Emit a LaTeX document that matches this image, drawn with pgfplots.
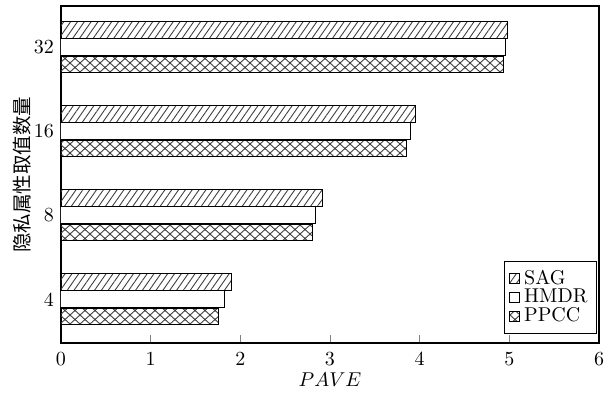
\documentclass[border=0pt]{standalone}
\usepackage{fontspec}
\usepackage{pgfplots}
\pgfplotsset{compat=1.18}
\usetikzlibrary{patterns.meta}
\newfontfamily\cjk{Noto Sans CJK SC}
\tikzdeclarepattern{
  name=xhatch,
  type=uncolored,
  bounding box={(-0.2pt,-0.2pt) and (5.2pt,4.7pt)},
  tile size={(5pt,4.5pt)},
  code={\draw[line width=0.45pt] (0pt,0pt)--(5pt,4.5pt) (0pt,4.5pt)--(5pt,0pt);}
}
\pgfplotstableread{
y SAG HMDR PPCC
0 1.90 1.82 1.76
1 2.92 2.84 2.80
2 3.955 3.90 3.855
3 4.98 4.96 4.93
}\datatable
\begin{document}
\begin{tikzpicture}
\begin{axis}[
  scale only axis,
  width=269pt, height=168.5pt,
  xmin=0, xmax=6, ymin=-0.52, ymax=3.49,
  xtick={0,1,2,3,4,5,6},
  xtick pos=bottom,
  ytick={0,1,2,3},
  yticklabels={4,8,16,32},
  ytick pos=left,
  major y tick style={draw=none},
  extra y ticks={0.5,1.5,2.5},
  extra y tick labels={},
  extra y tick style={major tick length=3.5pt, tick style={draw=black}},
  tick align=inside,
  major tick length=4pt,
  axis line style={line width=0.9pt},
  xticklabel style={yshift=-1.5pt},
  yticklabel style={xshift=4pt},
  xbar, bar width=0.2,
  xlabel={$PAVE$},
  xlabel style={font=\fontsize{10}{12}\selectfont, at={(rel axis cs:0.5,0)}, anchor=center, yshift=-18.5pt},
  ylabel={\cjk 隐私属性取值数量},
  ylabel style={font=\fontsize{9.75}{11}\selectfont, at={(rel axis cs:0,0.5)}, anchor=center, yshift=19.5pt},
  legend style={at={(rel axis cs:0.996,0.026)}, anchor=south east, draw=black, line width=0.5pt,
    font=\fontsize{10}{11}\selectfont, row sep=-3pt, inner sep=2.4pt, cells={anchor=west}},
  legend image code/.code={\draw[#1,line width=0.5pt] (0pt,-2.5pt) rectangle (5pt,2.5pt);},
]
\addplot[draw=black, line width=0.5pt, pattern={Lines[angle=55,distance=2.8pt,line width=0.45pt]}, pattern color=black!75, bar shift=0.205] table[x=SAG, y=y] {\datatable};
\addlegendentry{SAG}
\addplot[draw=black, line width=0.5pt, fill=white, bar shift=0] table[x=HMDR, y=y] {\datatable};
\addlegendentry{HMDR}
\addplot[draw=black, line width=0.5pt, pattern=xhatch, pattern color=black!75, bar shift=-0.205] table[x=PPCC, y=y] {\datatable};
\addlegendentry{PPCC}
\end{axis}
\path (current axis.south west) ++(-30.5pt,-26.5pt) coordinate (bl);
\path (current axis.north east) ++(6.5pt,3pt) coordinate (tr);
\pgfresetboundingbox
\useasboundingbox (bl) rectangle (tr);
\end{tikzpicture}
\end{document}
